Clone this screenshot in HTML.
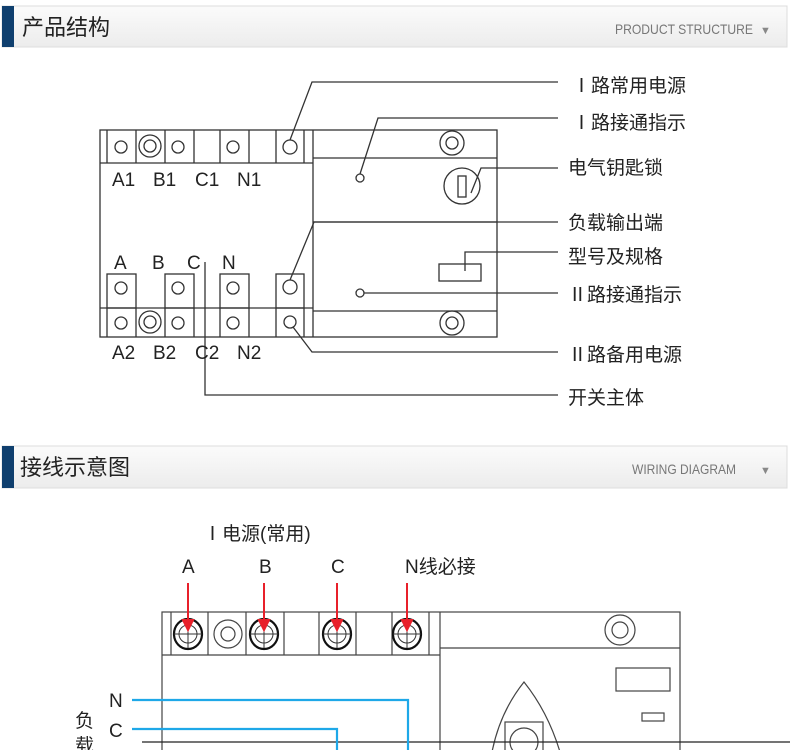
<!DOCTYPE html>
<html><head><meta charset="utf-8"><style>
body{margin:0;background:#fff;width:790px;height:750px;overflow:hidden}
svg{display:block}
text{font-family:"Liberation Sans","Noto Sans CJK SC",sans-serif}
</style></head><body>
<svg width="790" height="750" viewBox="0 0 790 750" xmlns="http://www.w3.org/2000/svg">
<defs>
<linearGradient id="hg" x1="0" y1="0" x2="0" y2="1"><stop offset="0" stop-color="#fbfbfb"/><stop offset="1" stop-color="#ececec"/></linearGradient>
</defs>
<!-- header 1 -->
<rect x="2" y="6" width="785" height="41" fill="url(#hg)" stroke="#ddd"/>
<rect x="2" y="6" width="12" height="41" fill="#0f3f6e"/>
<text x="22" y="35" font-size="22" fill="#222">产品结构</text>
<text x="615" y="34" font-size="14" fill="#777" textLength="138" lengthAdjust="spacingAndGlyphs">PRODUCT STRUCTURE</text>
<text x="760" y="34" font-size="11" fill="#888">▼</text>
<!-- header 2 -->
<rect x="2" y="446" width="785" height="42" fill="url(#hg)" stroke="#ddd"/>
<rect x="2" y="446" width="12" height="42" fill="#0f3f6e"/>
<text x="20" y="475" font-size="22" fill="#222">接线示意图</text>
<text x="632" y="474" font-size="14" fill="#777" textLength="104" lengthAdjust="spacingAndGlyphs">WIRING DIAGRAM</text>
<text x="760" y="474" font-size="11" fill="#888">▼</text>

<g fill="none" stroke="#333" stroke-width="1.3">
<rect x="100" y="130" width="397" height="207"/>
<line x1="313" y1="130" x2="313" y2="337"/>
<line x1="100" y1="163" x2="313" y2="163"/>
<line x1="100" y1="308" x2="313" y2="308"/>
<g>
<line x1="107" y1="130" x2="107" y2="163"/><line x1="136" y1="130" x2="136" y2="163"/><line x1="165" y1="130" x2="165" y2="163"/><line x1="194" y1="130" x2="194" y2="163"/><line x1="220" y1="130" x2="220" y2="163"/><line x1="249" y1="130" x2="249" y2="163"/><line x1="276" y1="130" x2="276" y2="163"/><line x1="304" y1="130" x2="304" y2="163"/>
<line x1="107" y1="308" x2="107" y2="337"/><line x1="136" y1="308" x2="136" y2="337"/><line x1="165" y1="308" x2="165" y2="337"/><line x1="194" y1="308" x2="194" y2="337"/><line x1="220" y1="308" x2="220" y2="337"/><line x1="249" y1="308" x2="249" y2="337"/><line x1="276" y1="308" x2="276" y2="337"/><line x1="304" y1="308" x2="304" y2="337"/>
</g>
<rect x="107" y="274" width="29" height="34"/><rect x="165" y="274" width="29" height="34"/><rect x="220" y="274" width="29" height="34"/><rect x="276" y="274" width="28" height="34"/>
<circle cx="121" cy="147" r="6"/><circle cx="150" cy="146" r="11"/><circle cx="150" cy="146" r="6"/><circle cx="178" cy="147" r="6"/><circle cx="233" cy="147" r="6"/><circle cx="290" cy="147" r="7"/>
<circle cx="121" cy="323" r="6"/><circle cx="150" cy="322" r="11"/><circle cx="150" cy="322" r="6"/><circle cx="178" cy="323" r="6"/><circle cx="233" cy="323" r="6"/><circle cx="290" cy="322" r="6"/>
<circle cx="121" cy="288" r="6"/><circle cx="178" cy="288" r="6"/><circle cx="233" cy="288" r="6"/><circle cx="290" cy="287" r="7"/>
<line x1="313" y1="158" x2="497" y2="158"/><line x1="313" y1="222" x2="497" y2="222"/><line x1="313" y1="311" x2="497" y2="311"/>
<circle cx="452" cy="143" r="12"/><circle cx="452" cy="143" r="6"/>
<circle cx="452" cy="323" r="12"/><circle cx="452" cy="323" r="6"/>
<circle cx="462" cy="186" r="18"/><rect x="458" y="176" width="8" height="21"/>
<circle cx="360" cy="178" r="4"/><circle cx="360" cy="293" r="4"/>
<rect x="439" y="264" width="42" height="17"/>
<polyline points="290,140 312,82 558,82"/>
<polyline points="360,174 378,118 558,118"/>
<polyline points="471,193 481,168 558,168"/>
<polyline points="290,280 314,222 558,222"/>
<polyline points="465,271 465,252 558,252"/>
<polyline points="364,293 558,293"/>
<polyline points="293,327 312,352 558,352"/>
<polyline points="205,262 205,395 558,395"/>
</g>
<g font-size="19" fill="#222">
<text x="112" y="186">A1</text><text x="153" y="186">B1</text><text x="195" y="186">C1</text><text x="237" y="186">N1</text>
<text x="114" y="269">A</text><text x="152" y="269">B</text><text x="187" y="269">C</text><text x="222" y="269">N</text>
<text x="112" y="359">A2</text><text x="153" y="359">B2</text><text x="195" y="359">C2</text><text x="237" y="359">N2</text>
<text x="572" y="92">Ⅰ路常用电源</text>
<text x="572" y="129">Ⅰ路接通指示</text>
<text x="568" y="174">电气钥匙锁</text>
<text x="568" y="229">负载输出端</text>
<text x="568" y="263">型号及规格</text>
<text x="568" y="301">Ⅱ路接通指示</text>
<text x="568" y="361">Ⅱ路备用电源</text>
<text x="568" y="404">开关主体</text>
</g>

<!-- wiring diagram -->
<g font-size="19" fill="#222">
<text x="203" y="540">Ⅰ电源(常用)</text>
<text x="182" y="573">A</text><text x="259" y="573">B</text><text x="331" y="573">C</text><text x="405" y="573">N线必接</text>
<text x="109" y="707">N</text><text x="109" y="737">C</text>
<text x="75" y="727">负</text><text x="75" y="752">载</text>
</g>
<g fill="none" stroke="#444" stroke-width="1.2">
<rect x="162" y="612" width="518" height="160"/>
<line x1="162" y1="655" x2="440" y2="655"/>
<line x1="440" y1="612" x2="440" y2="750"/>
<line x1="440" y1="648" x2="680" y2="648"/>
<line x1="171" y1="612" x2="171" y2="655"/><line x1="208" y1="612" x2="208" y2="655"/><line x1="246" y1="612" x2="246" y2="655"/><line x1="284" y1="612" x2="284" y2="655"/><line x1="319" y1="612" x2="319" y2="655"/><line x1="356" y1="612" x2="356" y2="655"/><line x1="392" y1="612" x2="392" y2="655"/><line x1="429" y1="612" x2="429" y2="655"/>
<circle cx="228" cy="634" r="14"/><circle cx="228" cy="634" r="7"/>
<circle cx="620" cy="630" r="15"/><circle cx="620" cy="630" r="8"/>
<rect x="616" y="668" width="54" height="23"/>
<rect x="642" y="713" width="22" height="8"/>
<path d="M492,752 Q500,712 524,682 Q548,712 560,752"/>
<rect x="505" y="722" width="38" height="40"/><circle cx="524" cy="742" r="14"/>
<line x1="142" y1="742" x2="790" y2="742" stroke="#222"/>
</g>
<g fill="none" stroke="#111" stroke-width="2.2">
<ellipse cx="188" cy="634" rx="14" ry="15"/><ellipse cx="264" cy="634" rx="14" ry="15"/><ellipse cx="337" cy="634" rx="14" ry="15"/><ellipse cx="407" cy="634" rx="14" ry="15"/>
</g>
<g fill="none" stroke="#333" stroke-width="1">
<circle cx="188" cy="634" r="9"/><circle cx="264" cy="634" r="9"/><circle cx="337" cy="634" r="9"/><circle cx="407" cy="634" r="9"/>
<path d="M174,634h28M188,620v28M250,634h28M264,620v28M323,634h28M337,620v28M393,634h28M407,620v28"/>
</g>
<g stroke="#e8202a" stroke-width="2" fill="#e8202a">
<line x1="188" y1="583" x2="188" y2="622"/><path d="M183,620h10l-5,10z"/>
<line x1="264" y1="583" x2="264" y2="622"/><path d="M259,620h10l-5,10z"/>
<line x1="337" y1="583" x2="337" y2="622"/><path d="M332,620h10l-5,10z"/>
<line x1="407" y1="583" x2="407" y2="622"/><path d="M402,620h10l-5,10z"/>
</g>
<g fill="none" stroke="#1ea8e8" stroke-width="2.2">
<polyline points="132,700 408,700 408,750"/>
<polyline points="132,729 337,729 337,750"/>
</g>
</svg>
</body></html>
